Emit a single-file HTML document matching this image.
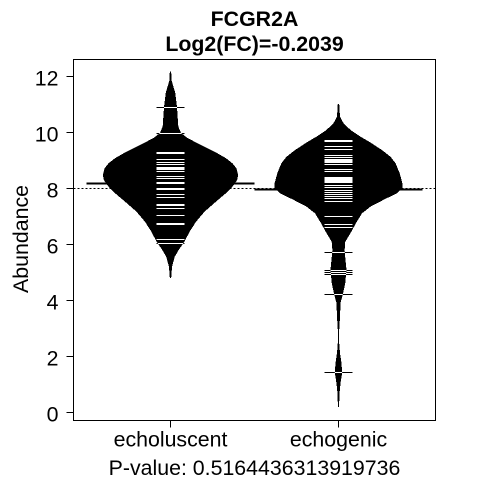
<!DOCTYPE html>
<html>
<head>
<meta charset="utf-8">
<style>
html,body{margin:0;padding:0;background:#fff}
svg{display:block}
text{font-family:"Liberation Sans",Arial,sans-serif;font-size:21.33px;fill:#000}
</style>
</head>
<body>
<svg id="chart" xmlns="http://www.w3.org/2000/svg" width="480" height="480" viewBox="0 0 480 480">
<text x="254.5" y="26" text-anchor="middle" font-weight="bold">FCGR2A</text>
<text x="254.5" y="51" text-anchor="middle" font-weight="bold">Log2(FC)=-0.2039</text>
<text transform="translate(28,239) rotate(-90)" text-anchor="middle">Abundance</text>
<text x="254.5" y="475" text-anchor="middle">P-value: 0.5164436313919736</text>
</svg>
<script>
const categories = ['echoluscent', 'echogenic'];
const yTicks = [0, 2, 4, 6, 8, 10, 12];
const overallMean = 8.02;
const groupMeans = [8.18, 7.99];

const bean1Grid = [12.19,11.89,11.43,10.94,10.23,10.0,9.82,9.57,9.33,9.10,8.92,8.74,8.5,8.32,8.08,7.85,7.55,7.19,6.83,6.47,6.12,5.82,5.57,5.21,4.82];
const bean1Density = [0.01,0.015,0.07,0.095,0.115,0.155,0.25,0.45,0.65,0.815,0.91,0.97,0.995,0.98,0.91,0.815,0.67,0.5,0.375,0.28,0.205,0.12,0.06,0.022,0.01];
const bean1Values = [10.92,10.0,9.31,9.27,9.04,8.94,8.86,8.77,8.73,8.70,8.61,8.44,8.36,8.25,8.18,8.03,7.99,7.82,7.68,7.45,7.41,7.32,7.06,6.77,6.73,6.20,6.07];

const bean2Grid = [11.04,10.58,10.35,10.11,9.87,9.63,9.39,9.15,8.92,8.56,8.20,8.04,7.85,7.61,7.37,7.13,6.78,6.42,6.12,5.82,5.54,5.11,4.64,4.29,3.93,3.43,2.96,2.5,2.14,1.79,1.43,1.07,0.71,0.21];
const bean2Density = [0.01,0.022,0.074,0.176,0.324,0.49,0.64,0.765,0.84,0.90,0.94,0.94,0.86,0.66,0.47,0.345,0.257,0.176,0.10,0.09,0.10,0.118,0.099,0.069,0.03,0.022,0.01,0.01,0.022,0.044,0.054,0.03,0.015,0.008];
const bean2Values = [9.75,9.68,9.51,9.40,9.21,9.13,9.05,9.02,8.98,8.95,8.86,8.68,8.64,8.61,8.41,8.37,8.34,8.30,8.27,8.23,8.14,8.06,7.96,7.88,7.80,7.73,7.65,7.57,7.54,7.03,6.75,6.64,5.74,5.10,5.02,4.95,4.24,1.45];

const NS = 'http://www.w3.org/2000/svg';
const svg = document.getElementById('chart');
const box = {l: 73.5, r: 435.5, t: 59.5, b: 420.5};
const yScale = v => 413 - 28 * v;
const xScale = i => 170 + 168 * i;
const widthScale = d => d * 68;
const snap = p => Math.round(p - 0.5) + 0.5;

function make(tag, attrs, parent) {
  const el = document.createElementNS(NS, tag);
  for (const k in attrs) el.setAttribute(k, attrs[k]);
  (parent || svg).appendChild(el);
  return el;
}

const defs = make('defs', {});
const beans = [
  {grid: bean1Grid, density: bean1Density, values: bean1Values},
  {grid: bean2Grid, density: bean2Density, values: bean2Values}
];

const overallY = snap(yScale(overallMean));
const overall = make('line', {x1: box.l, x2: box.r, y1: overallY, y2: overallY, stroke: '#000', 'stroke-width': 1, 'stroke-dasharray': '2 2', 'shape-rendering': 'crispEdges'});



beans.forEach((bean, i) => {
  const cx = xScale(i) + 0.5;
  const right = bean.grid.map((v, j) => (cx + widthScale(bean.density[j])) + ',' + yScale(v));
  const left = bean.grid.map((v, j) => (cx - widthScale(bean.density[j])) + ',' + yScale(v)).reverse();
  const pts = right.concat(left).join(' ');

  const clip = make('clipPath', {id: 'bean-clip-' + i}, defs);
  make('polygon', {points: pts}, clip);

  const shape = make('polygon', {points: pts, fill: '#000', 'shape-rendering': 'crispEdges'});
  
  

  const meanY = snap(yScale(groupMeans[i]));
  const mean = make('line', {x1: cx - 84, x2: cx + 84, y1: meanY, y2: meanY, stroke: '#000', 'stroke-width': 2, 'shape-rendering': 'crispEdges'});
  
  

  bean.values.forEach(v => {
    const y = snap(yScale(v));
    const black = make('line', {x1: cx - 14, x2: cx + 14, y1: y, y2: y, stroke: '#000', 'stroke-width': 1, 'shape-rendering': 'crispEdges'});
    
    
    const white = make('line', {x1: cx - 14, x2: cx + 14, y1: y, y2: y, stroke: '#fff', 'stroke-width': 1, 'shape-rendering': 'crispEdges', 'clip-path': 'url(#bean-clip-' + i + ')'});
    
    
  });
});

const frame = make('rect', {x: box.l, y: box.t, width: box.r - box.l, height: box.b - box.t, fill: 'none', stroke: '#000', 'stroke-width': 1, 'shape-rendering': 'crispEdges'});



yTicks.forEach(t => {
  const y = Math.floor(yScale(t)) - 0.5;
  const tick = make('line', {x1: box.l - 7, x2: box.l, y1: y, y2: y, stroke: '#000', 'stroke-width': 1, 'shape-rendering': 'crispEdges'});
  
  
  const label = make('text', {x: 58.5, y: y + 9, 'text-anchor': 'end'});
  label.textContent = t;
  
  
});

categories.forEach((c, i) => {
  const x = xScale(i) + 0.5;
  const tick = make('line', {x1: x, x2: x, y1: box.b, y2: box.b + 7, stroke: '#000', 'stroke-width': 1, 'shape-rendering': 'crispEdges'});
  
  
  const label = make('text', {x: x, y: 446.5, 'text-anchor': 'middle'});
  label.textContent = c;
  
  
});
</script>
</body>
</html>
